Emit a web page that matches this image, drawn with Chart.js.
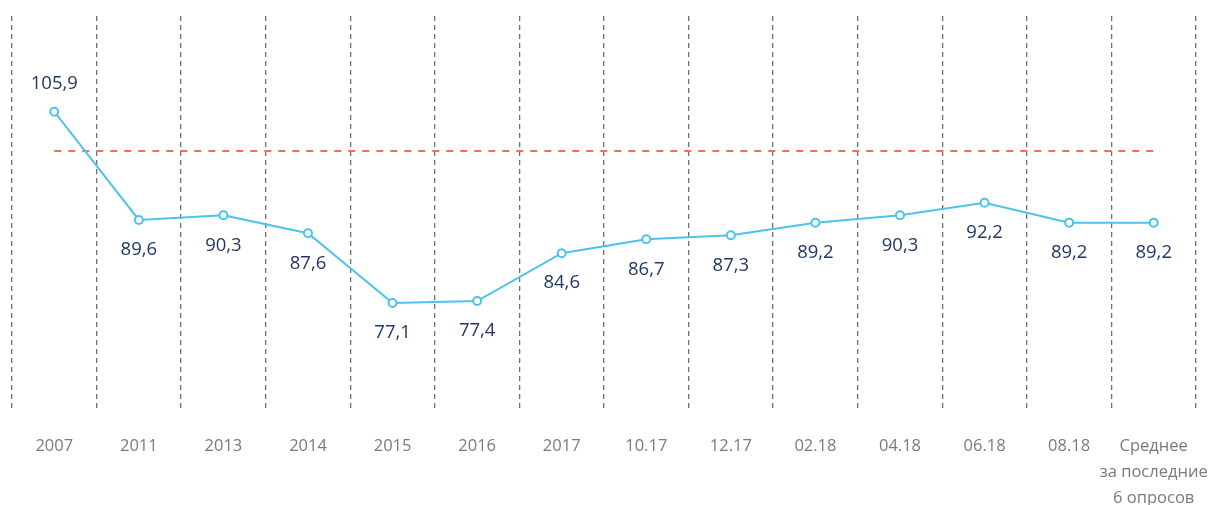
<!DOCTYPE html>
<html><head><meta charset="utf-8">
<script src="https://cdn.jsdelivr.net/npm/chart.js@4"></script>
<style>html,body{margin:0;padding:0;background:#fff}#wrap{width:1218px;height:505px;position:relative}</style>
</head><body><div id="wrap"><canvas id="c" width="1218" height="505"></canvas></div>
<script>
const categories = ['2007','2011','2013','2014','2015','2016','2017','10.17','12.17','02.18','04.18','06.18','08.18',['Среднее','за последние','6 опросов']];
const values = [105.9, 89.6, 90.3, 87.6, 77.1, 77.4, 84.6, 86.7, 87.3, 89.2, 90.3, 92.2, 89.2, 89.2];
const referenceValue = 100;
const labelAbove = [true,false,false,false,false,false,false,false,false,false,false,false,false,false];

const labelPlugin = {
  id: 'valueLabels',
  afterDatasetsDraw(chart) {
    const meta = chart.getDatasetMeta(0);
    const ctx = chart.ctx;
    ctx.save();
    ctx.font = '18.5px "Open Sans"';
    ctx.fillStyle = '#1F3864';
    ctx.textAlign = 'center';
    ctx.textBaseline = 'middle';
    meta.data.forEach((pt, i) => {
      const txt = values[i].toFixed(1).replace('.', ',');
      const dy = labelAbove[i] ? -28 : 30;
      ctx.fillText(txt, pt.x, pt.y + dy);
    });
    ctx.restore();
  }
};

new Chart(document.getElementById('c'), {
  type: 'line',
  data: {
    labels: categories,
    datasets: [
      {
        data: values,
        borderColor: '#4BC3EC',
        borderWidth: 2,
        pointRadius: 4,
        pointBorderWidth: 2,
        pointBackgroundColor: '#ffffff',
        pointBorderColor: '#4BC3EC',
        tension: 0,
        order: 1
      },
      {
        data: values.map(() => referenceValue),
        borderColor: '#F3704F',
        borderWidth: 2,
        borderDash: [7, 7],
        pointRadius: 0,
        order: 2
      }
    ]
  },
  options: {
    responsive: false,
    animation: false,
    layout: { padding: { left: 12, right: 22, top: 16, bottom: 0 } },
    plugins: { legend: { display: false }, tooltip: { enabled: false } },
    scales: {
      x: {
        offset: true,
        grid: { offset: true, display: true, drawTicks: false, color: '#707070', lineWidth: 1.3 },
        border: { display: false, dash: [5, 4] },
        ticks: { color: '#7a7a7a', font: { family: '"Open Sans"', size: 16.5, lineHeight: 1.58 }, padding: 21, maxRotation: 0, autoSkip: false },
        afterFit(scale) { scale.height = 93; scale.paddingLeft = 0; scale.paddingRight = 0; }
      },
      y: {
        display: false,
        min: 60.7,
        max: 120.3
      }
    }
  },
  plugins: [labelPlugin]
});
</script>
</body></html>
